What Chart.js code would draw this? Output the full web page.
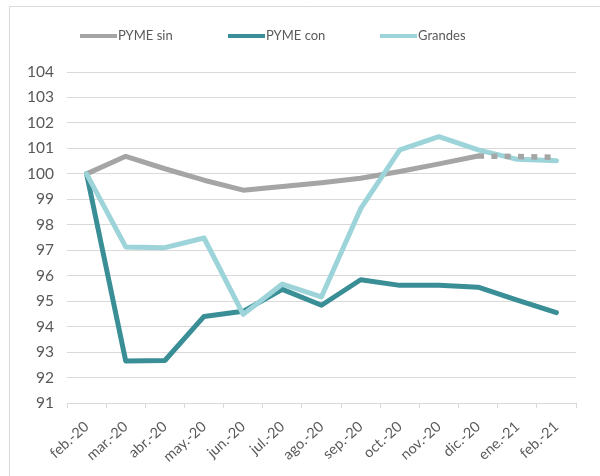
<!DOCTYPE html>
<html>
<head>
<meta charset="utf-8">
<script src="https://cdn.jsdelivr.net/npm/chart.js@4/dist/chart.umd.min.js"></script>
<style>
  html, body { margin: 0; padding: 0; background: #fff; }
  #wrap { position: relative; width: 600px; height: 476px; }
</style>
</head>
<body>
<div id="wrap"><canvas id="c" width="600" height="476"></canvas></div>
<script>
const categories = ["feb.-20","mar.-20","abr.-20","may.-20","jun.-20","jul.-20","ago.-20","sep.-20","oct.-20","nov.-20","dic.-20","ene.-21","feb.-21"];
const pymeSin    = [100, 100.69, 100.2, 99.75, 99.36, 99.5, 99.65, 99.83, 100.09, 100.39, 100.7, null, null];
const pymeSinProy= [null, null, null, null, null, null, null, null, null, null, 100.7, 100.68, 100.65];
const pymeCon    = [100, 92.65, 92.67, 94.4, 94.6, 95.46, 94.84, 95.84, 95.62, 95.62, 95.55, 95.04, 94.55];
const grandes    = [100, 97.13, 97.1, 97.48, 94.48, 95.67, 95.17, 98.63, 100.94, 101.46, 100.94, 100.57, 100.51];
const yMin = 91, yMax = 104;

const GRAY = "rgb(165,165,165)";
const DARK = "rgb(58,142,150)";
const LIGHT = "rgb(156,212,218)";
const TXT = "#595959";
const FONT = "Lato, 'Open Sans', sans-serif";

const legendItems = [
  { text: "PYME sin", color: GRAY, x: 80 },
  { text: "PYME con", color: DARK, x: 228 },
  { text: "Grandes", color: LIGHT, x: 380 }
];

const framePlugin = {
  id: "frame",
  beforeDraw(chart) {
    const ctx = chart.ctx;
    ctx.save();
    ctx.fillStyle = "#fff";
    ctx.fillRect(0, 0, chart.width, chart.height);
    ctx.strokeStyle = "#D9D9D9";
    ctx.lineWidth = 1;
    ctx.beginPath();
    ctx.moveTo(9.5, chart.height);
    ctx.lineTo(9.5, 6.5);
    ctx.lineTo(chart.width, 6.5);
    ctx.stroke();
    ctx.restore();
  },
  afterDraw(chart) {
    const ctx = chart.ctx;
    ctx.save();
    ctx.font = "13px " + FONT;
    ctx.textBaseline = "middle";
    ctx.textAlign = "left";
    legendItems.forEach(it => {
      ctx.fillStyle = it.color;
      ctx.fillRect(it.x, 34, 37, 4);
      ctx.fillStyle = TXT;
      ctx.fillText(it.text, it.x + 38, 36);
    });
    ctx.restore();
  }
};

new Chart(document.getElementById("c"), {
  type: "line",
  data: {
    labels: categories,
    datasets: [
      { label: "PYME sin", data: pymeSin, borderColor: GRAY, backgroundColor: GRAY, borderWidth: 5, order: 3 },
      { label: "PYME con", data: pymeCon, borderColor: DARK, backgroundColor: DARK, borderWidth: 5, order: 2 },
      { label: "Grandes", data: grandes, borderColor: LIGHT, backgroundColor: LIGHT, borderWidth: 5, order: 1 },
      { label: "PYME sin (proy.)", data: pymeSinProy, borderColor: GRAY, backgroundColor: GRAY, borderWidth: 5.5, borderDash: [6, 7.3], borderCapStyle: "butt", order: 0 }
    ]
  },
  options: {
    responsive: false,
    animation: false,
    devicePixelRatio: 1,
    layout: { padding: { top: 72, right: 24, left: 0, bottom: 0 } },
    elements: {
      point: { radius: 0, hoverRadius: 0 },
      line: { tension: 0, borderCapStyle: "round", borderJoinStyle: "round", fill: false }
    },
    plugins: { legend: { display: false }, tooltip: { enabled: false } },
    scales: {
      x: {
        offset: true,
        grid: { drawOnChartArea: false, drawTicks: true, tickLength: 5, color: "#D9D9D9", offset: true },
        border: { display: true, color: "#D9D9D9" },
        ticks: { autoSkip: false, minRotation: 42, maxRotation: 42, color: TXT, font: { family: FONT, size: 14.5 }, padding: 10 },
        afterFit(scale) { scale.height = 73; }
      },
      y: {
        min: yMin, max: yMax,
        grid: { color: "#D9D9D9", drawTicks: false, lineWidth: 1 },
        border: { display: false },
        ticks: { stepSize: 1, color: TXT, font: { family: FONT, size: 15.5 }, padding: 13 },
        afterFit(scale) { scale.width = 67; }
      }
    }
  },
  plugins: [framePlugin]
});
</script>
</body>
</html>
